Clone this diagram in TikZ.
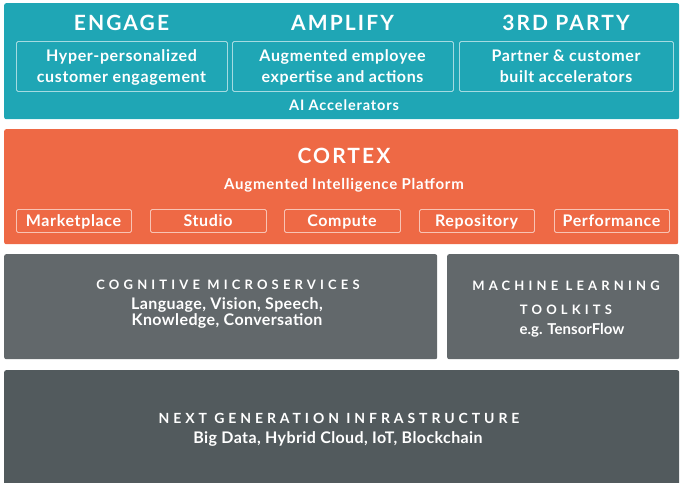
\documentclass[tikz,border=0pt]{standalone}
\usepackage{fontspec}
\setmainfont{Lato}
\newfontfamily\titlefont{Lato}[LetterSpace=10]
\newfontfamily\boxfont{Lato}[LetterSpace=4]
\newfontfamily\labelfont{Lato}[LetterSpace=6]
\newfontfamily\platfont{Lato}[LetterSpace=5]
\newfontfamily\bodyfont{Lato}[LetterSpace=2.5]
\newfontfamily\spaced{Lato}[LetterSpace=32]
\newfontfamily\spacedwide{Lato}[LetterSpace=28]
\definecolor{tealband}{HTML}{1FA6B5}
\definecolor{orangeband}{HTML}{EE6945}
\definecolor{grayband}{HTML}{62686B}
\definecolor{darkband}{HTML}{525A5D}
\tikzset{
  band/.style={inner sep=0pt, anchor=north west, rounded corners=2pt, draw=none},
  subbox/.style={draw=white, draw opacity=0.6, line width=0.9pt, rounded corners=1.5pt, inner sep=0pt, anchor=north west},
  txt/.style={text=white, inner sep=0pt, anchor=base},
  bigtitle/.style={txt, font=\fontsize{21}{25}\selectfont\titlefont\bfseries},
  boxtext/.style={txt, font=\fontsize{16}{19}\selectfont\boxfont\bfseries},
  acctext/.style={txt, font=\fontsize{14.5}{17}\selectfont\labelfont\bfseries},
  plattext/.style={txt, font=\fontsize{15}{18}\selectfont\platfont\bfseries},
  subtext/.style={txt, font=\fontsize{16}{19}\selectfont\boxfont\bfseries},
  bodytext/.style={txt, font=\fontsize{16}{19}\selectfont\bodyfont\bfseries},
  tftext/.style={txt, font=\fontsize{15}{18}\selectfont\bfseries},
  spacedtext/.style={txt, font=\fontsize{13}{15}\selectfont\spaced\bfseries},
  spacedwidetext/.style={txt, font=\fontsize{14}{16}\selectfont\spacedwide\bfseries},
}
\begin{document}
\begin{tikzpicture}[x=1pt, y=-1pt]
\useasboundingbox (0,0) rectangle (680,482);
% teal band
\node[band, fill=tealband, minimum width=675pt, minimum height=116pt] (teal) at (4,3) {};
\node[subbox, minimum width=211pt, minimum height=50pt] (bengage) at (16,41) {};
\node[subbox, minimum width=221pt, minimum height=50pt] (bamplify) at (232,41) {};
\node[subbox, minimum width=214pt, minimum height=50pt] (bthird) at (459,41) {};
\node[bigtitle] (tengage) at (121.5,30.5) {ENGAGE};
\node[bigtitle] (tamplify) at (342.5,30.5) {AMPLIFY};
\node[bigtitle] (tthird) at (566,30.5) {3RD PARTY};
\node[boxtext] (e1) at (121.5,61) {Hyper-personalized};
\node[boxtext] (e2) at (121.5,82) {customer engagement};
\node[boxtext] (a1) at (342.5,61) {Augmented employee};
\node[boxtext] (a2) at (342.5,82) {expertise and actions};
\node[boxtext] (p1) at (566,61) {Partner \& customer};
\node[boxtext] (p2) at (566,82) {built accelerators};
\node[acctext] (aiacc) at (344,110) {AI Accelerators};
% orange band
\node[band, fill=orangeband, minimum width=674pt, minimum height=115pt] (orange) at (4,129) {};
\node[bigtitle] (cortex) at (344,163) {CORTEX};
\node[plattext] (aip) at (344,189) {Augmented Intelligence Platform};
\node[subbox, minimum width=115pt, minimum height=23pt] (bmarket) at (16,209) {};
\node[subbox, minimum width=116pt, minimum height=23pt] (bstudio) at (150,209) {};
\node[subbox, minimum width=116pt, minimum height=23pt] (bcompute) at (284,209) {};
\node[subbox, minimum width=115pt, minimum height=23pt] (brepo) at (419,209) {};
\node[subbox, minimum width=115pt, minimum height=23pt] (bperf) at (554,209) {};
\node[subtext] (tmarket) at (73.5,226) {Marketplace};
\node[subtext] (tstudio) at (208,226) {Studio};
\node[subtext] (tcompute) at (342,226) {Compute};
\node[subtext] (trepo) at (476.5,226) {Repository};
\node[subtext] (tperf) at (611.5,226) {Performance};
% gray band
\node[band, fill=grayband, minimum width=433pt, minimum height=105pt] (cogn) at (4,254) {};
\node[band, fill=grayband, minimum width=232pt, minimum height=105pt] (mlbox) at (447,254) {};
\node[spacedtext] (tcogn) at (228,289) {COGNITIVE MICROSERVICES};
\node[bodytext] (c1) at (227,309.5) {Language, Vision, Speech,};
\node[bodytext] (c2) at (227,325.5) {Knowledge, Conversation};
\node[spacedtext] (tml) at (566,290) {MACHINE LEARNING};
\node[spacedtext] (tml2) at (566,314) {TOOLKITS};
\node[tftext] (m1) at (572,334) {e.g. TensorFlow};
% dark band
\node[band, fill=darkband, minimum width=675pt, minimum height=115pt, rounded corners=2pt] (infra) at (4,370) {};
\node[spacedwidetext] (tinfra) at (339,423) {NEXT GENERATION INFRASTRUCTURE};
\node[bodytext] (i1) at (338,443) {Big Data, Hybrid Cloud, IoT, Blockchain};
\end{tikzpicture}
\end{document}
